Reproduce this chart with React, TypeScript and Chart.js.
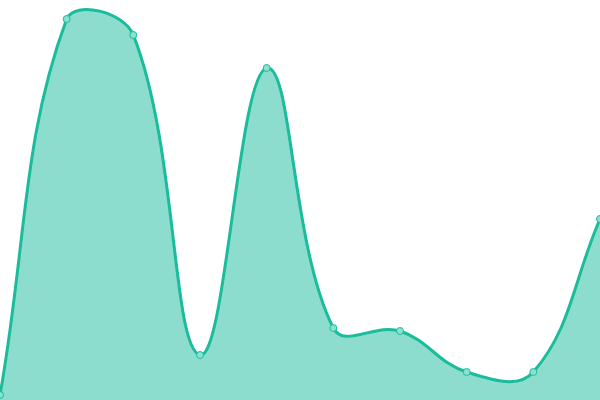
import { useEffect, useRef } from "react"
import { Chart, registerables, type ChartConfiguration } from "chart.js"

Chart.register(...registerables)

const labels = ["1", "2", "3", "4", "5", "6", "7", "8", "9", "10"]
const values = [5, 381, 365, 45, 332, 72, 69, 28, 28, 181]
const yMin = 0
const yMax = 400

export default function App() {
  const chartRef = useRef<HTMLCanvasElement>(null)
  const chartInstance = useRef<Chart | null>(null)

  useEffect(() => {
    document.body.style.margin = "0"
    if (!chartRef.current) return
    const ctx = chartRef.current.getContext("2d")
    if (!ctx) return

    if (chartInstance.current) chartInstance.current.destroy()

    const config: ChartConfiguration = {
      type: "line",
      data: {
        labels,
        datasets: [
          {
            data: values,
            fill: true,
            backgroundColor: "rgba(26, 188, 156, 0.5)",
            borderColor: "#1abc9c",
            borderWidth: 3,
            tension: 0.4,
            pointRadius: 3.5,
            pointBorderWidth: 1,
            pointBackgroundColor: "rgba(140, 224, 207, 1)",
            pointBorderColor: "#1abc9c",
          },
        ],
      },
      options: {
        responsive: true,
        maintainAspectRatio: false,
        animation: false,
        layout: { padding: 0, autoPadding: false },
        scales: {
          x: { display: false, offset: false },
          y: { display: false, min: yMin, max: yMax },
        },
        plugins: {
          legend: { display: false },
          tooltip: { enabled: false },
        },
      },
    }

    chartInstance.current = new Chart(ctx, config)

    return () => {
      if (chartInstance.current) {
        chartInstance.current.destroy()
        chartInstance.current = null
      }
    }
  }, [])

  return (
    <div style={{ width: 600, height: 400, position: "relative" }}>
      <canvas ref={chartRef} />
    </div>
  )
}
